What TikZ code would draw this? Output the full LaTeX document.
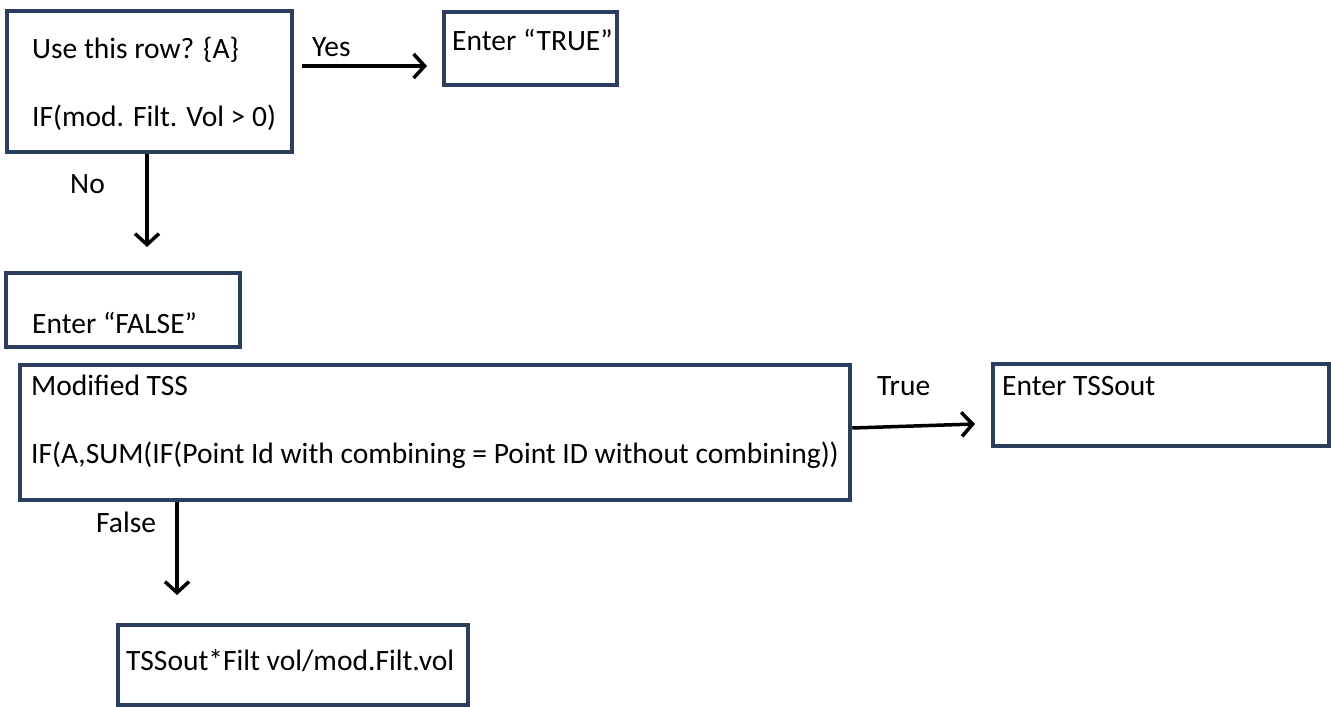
\documentclass[tikz,border=0pt]{standalone}
\usepackage{fontspec}
\setmainfont{Carlito}
\usetikzlibrary{arrows.meta}
\definecolor{boxblue}{RGB}{43,62,94}
\begin{document}
\begin{tikzpicture}[x=1pt,y=-1pt,
  box/.style={draw=boxblue,line width=4.5pt,fill=white,inner sep=0pt},
  txt/.style={anchor=base west,inner sep=0pt,font=\fontsize{29.5}{34}\selectfont},
  arr/.style={line width=3.5pt,-{Straight Barb[length=11pt,width=24pt,line width=3.5pt]}}]
\useasboundingbox (0,0) rectangle (1331,707);
% boxes
\node[box,minimum width=285pt,minimum height=141pt] (b1) at (149.5,81.5) {};
\node[box,minimum width=173pt,minimum height=73pt] (btrue) at (530.5,48.5) {};
\node[box,minimum width=234pt,minimum height=74pt] (bfalse) at (123,310) {};
\node[box,minimum width=830pt,minimum height=135pt] (btss) at (435,432.5) {};
\node[box,minimum width=336pt,minimum height=82pt] (bout) at (1161,405) {};
\node[box,minimum width=350pt,minimum height=80pt] (bres) at (293,665) {};
% texts
\node[txt] (t1a) at (32,58) {Use this row? \{A\}};
\node[txt] (t1b) at (32,126) {IF(mod. Filt. Vol > 0)};
\node[txt] (ttrue) at (452,50) {Enter “TRUE”};
\node[txt] (tfalse) at (32,333) {Enter “FALSE”};
\node[txt] (ttss1) at (31,395) {Modified TSS};
\node[txt] (ttss2) at (31,463) {IF(A,SUM(IF(Point Id with combining = Point ID without combining))};
\node[txt] (tout) at (1002,395) {Enter TSSout};
\node[txt] (tres) at (126,670) {TSSout*Filt vol/mod.Filt.vol};
% arrow labels
\node[txt] (lyes) at (312,56) {Yes};
\node[txt] (lno) at (70,193) {No};
\node[txt] (ltrue) at (877,395) {True};
\node[txt] (lfalse) at (96,532) {False};
% connectors
\coordinate (yesS) at (302,66);
\coordinate (yesE) at (427,66);
\draw[arr] (yesS) -- (yesE);
\coordinate (noE) at (147,247);
\draw[arr] (b1.south -| noE) -- (noE);
\coordinate (trS) at (btss.east |- 0,428);
\coordinate (trE) at (975,424);
\draw[arr] (trS) -- (trE);
\coordinate (faE) at (177,595);
\draw[arr] (btss.south -| faE) -- (faE);
\end{tikzpicture}
\end{document}
